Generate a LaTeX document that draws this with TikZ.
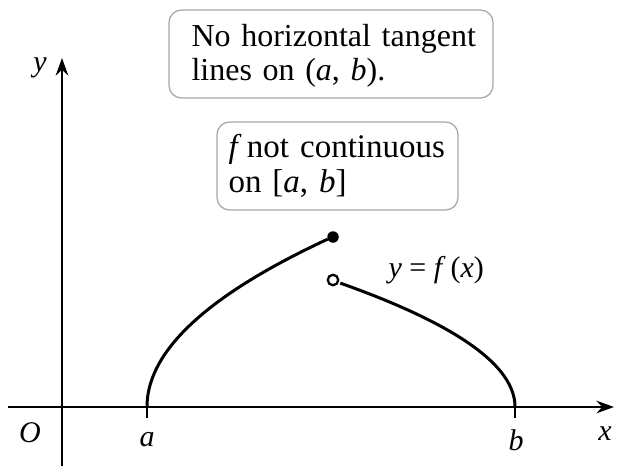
\documentclass[tikz,border=0pt]{standalone}
\usepackage{fontspec}
\setmainfont{Liberation Serif}
\usetikzlibrary{arrows.meta}
\begin{document}
\begin{tikzpicture}[x=0.4pt,y=-0.4pt,
  axis/.style={line width=1.1pt,-{Stealth[length=7pt,width=5pt]}},
  curve/.style={line width=1.2pt},
  notebox/.style={draw=gray!70,line width=0.5pt,rounded corners=5pt,inner sep=0pt},
  notetext/.style={align=left,inner sep=0pt,anchor=west,text width=135pt},
  lbl/.style={font=\fontsize{12}{14}\selectfont,inner sep=0pt},
  tick/.style={line width=1pt}]
\useasboundingbox (0,0) rectangle (618,467);
% axes
\coordinate (xs) at (8,407);
\coordinate (xe) at (614,407);
\coordinate (ys) at (62,466);
\coordinate (ye) at (62,58);
\draw[axis] (xs) -- (xe);
\draw[axis] (ys) -- (ye);
% ticks
\coordinate (a) at (147,407);
\coordinate (b) at (515,407);
\coordinate (at) at (147,418);
\coordinate (bt) at (515,418);
\draw[tick] (a) -- (at);
\draw[tick] (b) -- (bt);
% labels
\node[lbl] (ly) at (40,68) {\textit{y}};
\node[lbl] (lx) at (605,434) {\textit{x}};
\node[lbl] (lO) at (30,433) {\textit{O}};
\node[lbl] (la) at (147,440) {\textit{a}};
\node[lbl] (lb) at (516,440) {\textit{b}};
\node[lbl,anchor=west] (lf) at (388,270) {\textit{y} = \textit{f}\,(\textit{x})};
% curves
\draw[curve] plot[domain=0:1,samples=60,smooth] ({147+181*\x*\x},{407-168*\x});
\draw[curve] plot[domain=0:1,samples=60,smooth] ({515-175*\x*\x},{407-124*\x});
% dots
\node[circle,fill=black,inner sep=0pt,minimum size=4.6pt] (fd) at (333,237) {};
\node[circle,draw=black,fill=white,line width=0.9pt,inner sep=0pt,minimum size=4.2pt] (od) at (333,280) {};
% notes
\node[notebox,minimum width=129.6pt,minimum height=35.2pt] (n1) at (331,54) {};
\node[notetext,font=\fontsize{12.8}{13.6}\selectfont] (t1) at (191,56)
  {No horizontal tangent\\lines on (\textit{a}, \textit{b}).};
\node[notebox,minimum width=96.4pt,minimum height=35.2pt] (n2) at (337.5,166) {};
\node[notetext,font=\fontsize{13.2}{14}\selectfont] (t2) at (228,166)
  {\textit{f}\,not continuous\\on [\textit{a}, \textit{b}]};
\end{tikzpicture}
\end{document}
